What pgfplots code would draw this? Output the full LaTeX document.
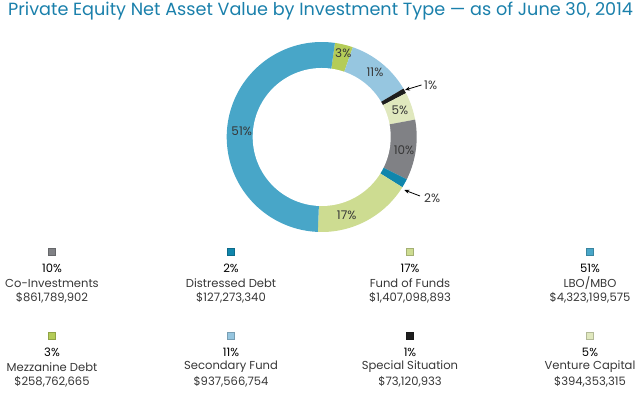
\documentclass[border=0pt]{standalone}
\usepackage{pgfplots}
\pgfplotsset{compat=1.18}
\usepackage{pgfplotstable}
\usetikzlibrary{arrows.meta}
\usepackage{fontspec}
\setmainfont{Poppins}

\definecolor{slice0}{RGB}{180,204,88}   % Mezzanine Debt
\definecolor{slice1}{RGB}{150,198,224}  % Secondary Fund
\definecolor{slice2}{RGB}{30,30,30}     % Special Situation
\definecolor{slice3}{RGB}{224,232,190}  % Venture Capital
\definecolor{slice4}{RGB}{128,129,133}  % Co-Investments
\definecolor{slice5}{RGB}{16,134,172}   % Distressed Debt
\definecolor{slice6}{RGB}{205,220,145}  % Fund of Funds
\definecolor{slice7}{RGB}{72,166,200}   % LBO/MBO
\definecolor{titleblue}{RGB}{26,128,171}
\definecolor{txt}{RGB}{55,55,55}

% values in millions of dollars, in the order of the ring (clockwise from top)
\pgfplotstableread{
name value
Mezzanine 258.762665
Secondary 937.566754
Special 73.120933
Venture 394.353315
CoInvestments 861.789902
Distressed 127.273340
FundOfFunds 1407.098893
LBO 4323.199575
}\slices

\def\total{0}
\foreach \i in {0,...,7}{%
  \pgfplotstablegetelem{\i}{value}\of\slices
  \pgfmathsetmacro\tmp{\total+\pgfplotsretval}%
  \xdef\total{\tmp}%
}
\def\angi{82}
\gdef\cum{0}
\foreach \i in {0,...,7}{%
  \pgfplotstablegetelem{\i}{value}\of\slices
  \pgfmathsetmacro\tmp{\cum+\pgfplotsretval}%
  \xdef\cum{\tmp}%
  \pgfmathsetmacro\a{82-360*(\cum/\total)}%
  \pgfmathtruncatemacro\j{\i+2}%
  \expandafter\xdef\csname ang\romannumeral\j\endcsname{\a}%
}

\def\cx{321.7}
\def\cy{257}
\newcommand\ringslice[3]{%
  \addplot[fill=#1, draw=none, domain=#2:#3, samples=80, variable=\t]
    ({\cx+95*cos(\t)},{\cy+95*sin(\t)}) -- (axis cs:\cx,\cy) -- cycle;}

\newcommand\legitem[6]{%
  \addplot[only marks, mark=square*, mark size=3.5, color=#2, mark options={draw=#2!80!black, line width=0.3pt}] coordinates {(#1,#3)};
  \node[font=\fontsize{11.6}{13}\selectfont, text=black] at (axis cs:#1,#3-16) {#4};
  \node[font=\fontsize{11.6}{13}\selectfont, text=txt] at (axis cs:#1,#3-31) {#5};
  \node[font=\fontsize{11.6}{13}\selectfont, text=txt] at (axis cs:#1,#3-46) {#6};
}

\begin{document}
\begin{tikzpicture}
\begin{axis}[scale only axis, width=640bp, height=394bp,
  xmin=0, xmax=640, ymin=0, ymax=394,
  axis line style={draw=none}, ticks=none, clip=false]

% ring
\ringslice{slice0}{\angii}{\angi}
\ringslice{slice1}{\angiii}{\angii}
\ringslice{slice2}{\angiv}{\angiii}
\ringslice{slice3}{\angv}{\angiv}
\ringslice{slice4}{\angvi}{\angv}
\ringslice{slice5}{\angvii}{\angvi}
\ringslice{slice6}{\angviii}{\angvii}
\ringslice{slice7}{\angix}{\angviii}
\addplot[fill=white, draw=none, domain=0:360, samples=181, variable=\t]
  ({\cx+69*cos(\t)},{\cy+69*sin(\t)}) -- cycle;

% slice labels
\begin{scope}[every node/.style={font=\fontsize{12}{14}\selectfont, text=txt}]
\node at (axis cs:343.3,340.7) {3\%};
\node at (axis cs:375,321.3) {11\%};
\node at (axis cs:400,283.3) {5\%};
\node at (axis cs:404,244) {10\%};
\node at (axis cs:346.7,179) {17\%};
\node at (axis cs:241.7,262.3) {51\%};
\node[anchor=west, inner sep=1pt] at (axis cs:423,309) {1\%};
\node[anchor=west, inner sep=1pt] at (axis cs:423,196) {2\%};
\end{scope}
\addplot[-{Stealth[length=5bp,width=4bp]}, line width=0.8pt, black] coordinates {(421.5,309) (405,304)};
\addplot[-{Stealth[length=5bp,width=4bp]}, line width=0.8pt, black] coordinates {(420,198) (404.3,204)};

% title
\node[anchor=base west, inner sep=0pt, text=titleblue, font=\fontsize{17.7}{20}\selectfont]
  at (axis cs:8,378) {Private Equity Net Asset Value by Investment Type \textemdash{} as of June 30, 2014};

% legend
\legitem{52}{slice4}{142}{10\%}{Co-Investments}{\$861,789,902}
\legitem{231}{slice5}{142}{2\%}{Distressed Debt}{\$127,273,340}
\legitem{410}{slice6}{142}{17\%}{Fund of Funds}{\$1,407,098,893}
\legitem{590}{slice7}{142}{51\%}{LBO/MBO}{\$4,323,199,575}
\legitem{52}{slice0}{58}{3\%}{Mezzanine Debt}{\$258,762,665}
\legitem{231}{slice1}{58}{11\%}{Secondary Fund}{\$937,566,754}
\legitem{410}{slice2}{58}{1\%}{Special Situation}{\$73,120,933}
\legitem{590}{slice3}{58}{5\%}{Venture Capital}{\$394,353,315}
\end{axis}
\end{tikzpicture}
\end{document}
